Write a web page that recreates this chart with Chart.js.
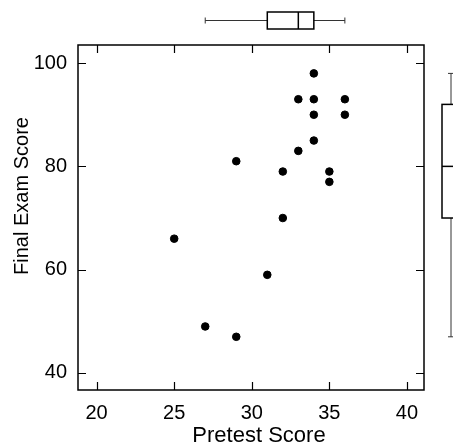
<!DOCTYPE html>
<html>
<head>
<meta charset="utf-8">
<script src="https://cdn.jsdelivr.net/npm/chart.js@4"></script>
<style>
  body { margin: 0; background: #fff; }
  canvas { display: block; }
</style>
</head>
<body>
<canvas id="chart" width="453" height="446"></canvas>
<script>
// dati
const pretest = [25, 27, 29, 29, 31, 32, 32, 33, 33, 34, 34, 34, 34, 35, 35, 36, 36];
const finalExam = [66, 49, 81, 47, 59, 79, 70, 93, 83, 98, 93, 90, 85, 79, 77, 93, 90];
const xTicks = [20, 25, 30, 35, 40];
const yTicks = [40, 60, 80, 100];
// min, q1, mediana, q3, max
const pretestBox = [27, 31, 33, 34, 36];
const finalBox = [47, 70, 80, 92, 98];
const xTitle = 'Pretest Score';
const yTitle = 'Final Exam Score';

const family = "'Liberation Sans', Arial, sans-serif";
const tickFont = { family, size: 20 };

// cornice, tacche interne, titoli e boxplot marginali
const framePlugin = {
  id: 'frame',
  afterDraw(chart) {
    const { ctx, chartArea: a, scales } = chart;
    const x = scales.x, y = scales.y;
    ctx.save();
    ctx.strokeStyle = '#000';
    ctx.lineWidth = 1.5;
    ctx.strokeRect(a.left, a.top, a.right - a.left, a.bottom - a.top);

    const tl = 8;
    ctx.lineWidth = 1.2;
    ctx.beginPath();
    xTicks.forEach(v => {
      const px = Math.round(x.getPixelForValue(v)) + 0.5;
      ctx.moveTo(px, a.bottom); ctx.lineTo(px, a.bottom - tl);
      ctx.moveTo(px, a.top); ctx.lineTo(px, a.top + tl);
    });
    yTicks.forEach(v => {
      const py = Math.round(y.getPixelForValue(v)) + 0.5;
      ctx.moveTo(a.left, py); ctx.lineTo(a.left + tl, py);
      ctx.moveTo(a.right, py); ctx.lineTo(a.right - tl, py);
    });
    ctx.stroke();

    // titoli degli assi
    ctx.fillStyle = '#000';
    ctx.textAlign = 'center';
    ctx.textBaseline = 'alphabetic';
    ctx.font = `22px ${family}`;
    ctx.fillText(xTitle, 259, 442);
    ctx.save();
    ctx.translate(28, 196);
    ctx.rotate(-Math.PI / 2);
    ctx.font = `20px ${family}`;
    ctx.fillText(yTitle, 0, 0);
    ctx.restore();

    // boxplot in alto (pretest)
    const [xMin, xQ1, xMed, xQ3, xMax] = pretestBox.map(v => x.getPixelForValue(v));
    const cy = 20.5, bh = 8.5;
    ctx.lineWidth = 1;
    ctx.strokeStyle = '#333';
    ctx.beginPath();
    ctx.moveTo(xMin, cy); ctx.lineTo(xQ1, cy);
    ctx.moveTo(xQ3, cy); ctx.lineTo(xMax, cy);
    ctx.moveTo(xMin, cy - 3); ctx.lineTo(xMin, cy + 3);
    ctx.moveTo(xMax, cy - 3); ctx.lineTo(xMax, cy + 3);
    ctx.stroke();
    ctx.strokeStyle = '#000';
    ctx.lineWidth = 1.5;
    ctx.strokeRect(xQ1, cy - bh, xQ3 - xQ1, bh * 2);
    ctx.beginPath();
    ctx.moveTo(xMed, cy - bh); ctx.lineTo(xMed, cy + bh);
    ctx.stroke();

    // boxplot a destra (final exam)
    const [yMin, yQ1, yMed, yQ3, yMax] = finalBox.map(v => y.getPixelForValue(v));
    const cx = 451, bw = 9;
    ctx.lineWidth = 1;
    ctx.strokeStyle = '#333';
    ctx.beginPath();
    ctx.moveTo(cx, yMin); ctx.lineTo(cx, yQ1);
    ctx.moveTo(cx, yQ3); ctx.lineTo(cx, yMax);
    ctx.moveTo(cx - 3, yMin); ctx.lineTo(cx + 3, yMin);
    ctx.moveTo(cx - 3, yMax); ctx.lineTo(cx + 3, yMax);
    ctx.stroke();
    ctx.strokeStyle = '#000';
    ctx.lineWidth = 1.5;
    ctx.strokeRect(cx - bw, yQ3, bw * 2, yQ1 - yQ3);
    ctx.beginPath();
    ctx.moveTo(cx - bw, yMed); ctx.lineTo(cx + bw, yMed);
    ctx.stroke();
    ctx.restore();
  }
};

new Chart(document.getElementById('chart'), {
  type: 'scatter',
  data: {
    datasets: [{
      data: pretest.map((v, i) => ({ x: v, y: finalExam[i] })),
      backgroundColor: '#000',
      borderColor: '#000',
      pointRadius: 3.8,
      pointHoverRadius: 3.8
    }]
  },
  options: {
    responsive: false,
    animation: false,
    layout: { padding: { top: 45, right: 29, left: 0, bottom: 0 } },
    plugins: { legend: { display: false }, tooltip: { enabled: false } },
    scales: {
      x: {
        type: 'linear',
        min: 18.8,
        max: 41.1,
        afterBuildTicks: s => { s.ticks = xTicks.map(v => ({ value: v })); },
        afterFit: s => { s.height = 56; },
        grid: { display: false },
        border: { display: false },
        ticks: { font: tickFont, color: '#000', padding: 3, maxRotation: 0 }
      },
      y: {
        type: 'linear',
        min: 36.7,
        max: 103.5,
        afterBuildTicks: s => { s.ticks = yTicks.map(v => ({ value: v })); },
        afterFit: s => { s.width = 78; },
        grid: { display: false },
        border: { display: false },
        ticks: { font: tickFont, color: '#000', padding: 3 }
      }
    }
  },
  plugins: [framePlugin]
});
</script>
</body>
</html>
